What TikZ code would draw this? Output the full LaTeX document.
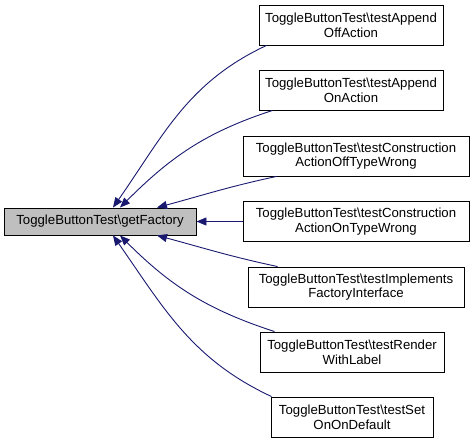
\documentclass[tikz,border=0pt]{standalone}
\usepackage{fontspec}
\setmainfont{Liberation Sans}
\usetikzlibrary{arrows.meta}
\definecolor{edgeblue}{HTML}{191970}
\definecolor{mainfill}{HTML}{BFBFBF}
\begin{document}
\begin{tikzpicture}[x=1bp,y=-1bp,
  box/.style={draw=black,line width=0.9bp,fill=white,inner sep=0pt,align=center,
    font=\fontsize{13.2bp}{14.6bp}\selectfont,minimum height=40bp},
  edge/.style={draw=edgeblue,line width=0.9bp,
    {Triangle[length=10bp,width=8bp,fill=edgeblue]}-}]
\useasboundingbox (0,0) rectangle (475,444);
\node[box,fill=mainfill,minimum width=192bp,minimum height=27bp] (main) at (100,221.5) {ToggleButtonTest\textbackslash getFactory};
\node[box,minimum width=184bp] (n1) at (351,25) {ToggleButtonTest\textbackslash testAppend\\OffAction};
\node[box,minimum width=184bp] (n2) at (351,90) {ToggleButtonTest\textbackslash testAppend\\OnAction};
\node[box,minimum width=226bp] (n3) at (356,156) {ToggleButtonTest\textbackslash testConstruction\\ActionOffTypeWrong};
\node[box,minimum width=226bp] (n4) at (356,221.5) {ToggleButtonTest\textbackslash testConstruction\\ActionOnTypeWrong};
\node[box,minimum width=216bp] (n5) at (356,287) {ToggleButtonTest\textbackslash testImplements\\FactoryInterface};
\node[box,minimum width=184bp] (n6) at (352,352) {ToggleButtonTest\textbackslash testRender\\WithLabel};
\node[box,minimum width=162bp] (n7) at (352,417) {ToggleButtonTest\textbackslash testSet\\OnOnDefault};
\draw[edge] ([xshift=13bp]main.north) to[out=55,in=205] ([xshift=8bp]n1.south west);
\draw[edge] ([xshift=20bp]main.north) to[out=45,in=198] ([xshift=14bp]n2.south west);
\draw[edge] ([xshift=57bp]main.north) to[out=15,in=192] ([xshift=34bp]n3.south west);
\draw[edge] (main.east) -- (n4.west);
\draw[edge] ([xshift=57bp]main.south) to[out=-15,in=168] ([xshift=30bp]n5.north west);
\draw[edge] ([xshift=20bp]main.south) to[out=-45,in=162] ([xshift=15bp]n6.north west);
\draw[edge] ([xshift=13bp]main.south) to[out=-55,in=155] ([xshift=1bp]n7.north west);
\end{tikzpicture}
\end{document}
